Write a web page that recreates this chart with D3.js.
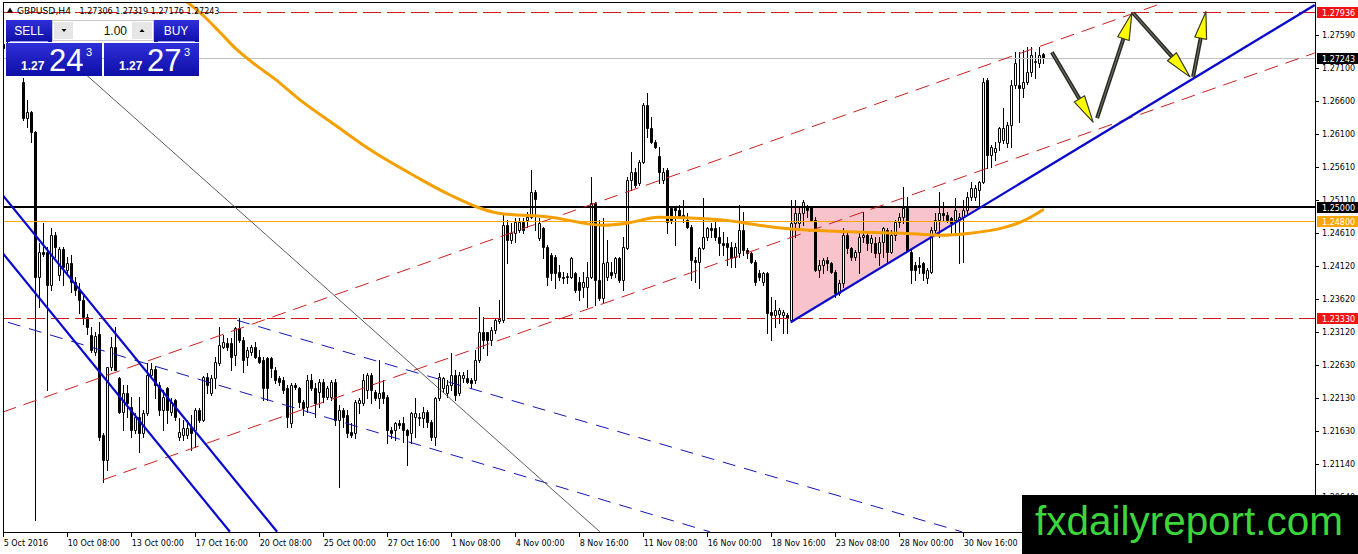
<!DOCTYPE html>
<html>
<head>
<meta charset="utf-8">
<script src="https://cdn.jsdelivr.net/npm/d3@7"></script>
<style>
  body { margin: 0; background: #fff; }
  svg { display: block; font-family: "DejaVu Sans", sans-serif; }
</style>
</head>
<body>
<svg id="chart" width="1358" height="554"></svg>
<script>
// ---- data ----
var symbol = "GBPUSD,H4";
var lastBar = ["1.27306", "1.27319", "1.27176", "1.27243"];
var sellQuote = ["1.27", "24", "3"];
var buyQuote = ["1.27", "27", "3"];
var lotSize = "1.00";
var brand = "fxdailyreport.com";

var timeLabels = ["5 Oct 2016", "10 Oct 08:00", "13 Oct 00:00", "17 Oct 16:00", "20 Oct 08:00",
  "25 Oct 00:00", "27 Oct 16:00", "1 Nov 08:00", "4 Nov 00:00", "8 Nov 16:00", "11 Nov 08:00",
  "16 Nov 00:00", "18 Nov 16:00", "23 Nov 08:00", "28 Nov 00:00", "30 Nov 16:00"];
var barsPerLabel = 16;
var priceTicks = [1.27590, 1.27100, 1.26600, 1.26100, 1.25610, 1.25110, 1.24610, 1.24120,
  1.23620, 1.23120, 1.22630, 1.22130, 1.21630, 1.21140, 1.20640];

// H4 candles [open, high, low, close]
var barsOct5 = [
  [1.2745,1.2778,1.2730,1.2740],[1.2740,1.2755,1.2715,1.2725],[1.2725,1.2740,1.2710,1.2730],
  [1.2730,1.2745,1.2712,1.2718],[1.2718,1.2728,1.2700,1.2705],[1.2688,1.2694,1.2631,1.2634],
  [1.2634,1.2661,1.2621,1.2643],[1.2643,1.2645,1.2598,1.2613],[1.2613,1.2615,1.2030,1.2395],
  [1.2395,1.2446,1.2350,1.2433],[1.2433,1.2476,1.2426,1.2430],[1.2433,1.2440,1.2225,1.2383],
  [1.2383,1.2469,1.2375,1.2458],[1.2458,1.2463,1.2425,1.2440],[1.2398,1.2440,1.2391,1.2437],
  [1.2437,1.2440,1.2383,1.2410],[1.2406,1.2425,1.2400,1.2416],[1.2416,1.2428,1.2372,1.2388],
  [1.2388,1.2395,1.2368,1.2375],[1.2375,1.2386,1.2341,1.2360],[1.2360,1.2366,1.2325,1.2335],
  [1.2335,1.2340,1.2310,1.2320],[1.2308,1.2320,1.2282,1.2285],[1.2282,1.2312,1.2278,1.2306],
  [1.2310,1.2328,1.2150,1.2154],[1.2157,1.2160,1.2087,1.2120],[1.2120,1.2260,1.2105,1.2260],
  [1.2260,1.2305,1.2255,1.2290],[1.2290,1.2320,1.2255,1.2255],[1.2243,1.2245,1.2190,1.2192],
  [1.2192,1.2233,1.2165,1.2221],[1.2221,1.2233,1.2185,1.2206],[1.2200,1.2215,1.2154,1.2165],
  [1.2165,1.2190,1.2160,1.2185],[1.2185,1.2215,1.2132,1.2160],[1.2160,1.2195,1.2155,1.2190],
  [1.2190,1.2266,1.2188,1.2248],[1.2248,1.2266,1.2243,1.2257],[1.2257,1.2262,1.2213,1.2233],
  [1.2233,1.2237,1.2188,1.2195]
];
var barsOct13 = [
  [1.2195,1.2225,1.2165,1.2215],[1.2228,1.2230,1.2176,1.2195],[1.2192,1.2213,1.2188,1.2207],
  [1.2210,1.2212,1.2180,1.2185],[1.2154,1.2183,1.2150,1.2162],[1.2157,1.2180,1.2150,1.2168],
  [1.2157,1.2180,1.2153,1.2168],[1.2169,1.2188,1.2135,1.2160],[1.2165,1.2198,1.2139,1.2195],
  [1.2195,1.2198,1.2177,1.2180],[1.2180,1.2246,1.2178,1.2245],[1.2245,1.2251,1.2221,1.2233],
  [1.2221,1.2248,1.2218,1.2243],[1.2243,1.2275,1.2228,1.2267],[1.2266,1.2320,1.2263,1.2293],
  [1.2290,1.2308,1.2289,1.2297],[1.2296,1.2303,1.2285,1.2290],[1.2296,1.2303,1.2255,1.2275],
  [1.2278,1.2320,1.2263,1.2318],[1.2318,1.2333,1.2297,1.2300],[1.2300,1.2305,1.2252,1.2270],
  [1.2275,1.2290,1.2263,1.2285],[1.2282,1.2293,1.2278,1.2290],[1.2290,1.2297,1.2273,1.2275],
  [1.2275,1.2285,1.2266,1.2267],[1.2270,1.2275,1.2210,1.2228],[1.2273,1.2275,1.2210,1.2228],
  [1.2273,1.2275,1.2245,1.2258],[1.2255,1.2260,1.2236,1.2240],[1.2243,1.2246,1.2233,1.2237],
  [1.2240,1.2245,1.2221,1.2225],[1.2228,1.2233,1.2169,1.2185],[1.2176,1.2236,1.2169,1.2233],
  [1.2233,1.2236,1.2227,1.2230],[1.2228,1.2230,1.2200,1.2207],[1.2207,1.2210,1.2188,1.2198],
  [1.2200,1.2248,1.2192,1.2240]
];
var barsOct21 = [
  [1.2240,1.2249,1.2225,1.2228],[1.2228,1.2236,1.2185,1.2206],[1.2222,1.2242,1.2200,1.2237],
  [1.2237,1.2242,1.2207,1.2215],[1.2215,1.2231,1.2212,1.2228],[1.2215,1.2240,1.2210,1.2237],
  [1.2237,1.2242,1.2172,1.2180],[1.2180,1.2203,1.2079,1.2195],[1.2195,1.2198,1.2169,1.2185],
  [1.2188,1.2195,1.2154,1.2160],[1.2162,1.2176,1.2154,1.2157],[1.2160,1.2210,1.2153,1.2207],
  [1.2206,1.2213,1.2190,1.2210],[1.2206,1.2249,1.2203,1.2240],[1.2225,1.2251,1.2213,1.2248],
  [1.2248,1.2251,1.2206,1.2225],[1.2222,1.2225,1.2210,1.2213],[1.2213,1.2270,1.2198,1.2221],
  [1.2222,1.2240,1.2206,1.2213],[1.2215,1.2218,1.2145,1.2165],[1.2165,1.2169,1.2153,1.2160],
  [1.2165,1.2177,1.2150,1.2176],[1.2176,1.2180,1.2168,1.2172],[1.2176,1.2185,1.2147,1.2165],
  [1.2165,1.2166,1.2112,1.2157],[1.2160,1.2192,1.2145,1.2190],[1.2185,1.2213,1.2154,1.2190],
  [1.2183,1.2190,1.2172,1.2185],[1.2183,1.2200,1.2169,1.2192],[1.2192,1.2195,1.2169,1.2177],
  [1.2177,1.2180,1.2150,1.2154],[1.2154,1.2215,1.2142,1.2213],[1.2213,1.2251,1.2210,1.2245],
  [1.2228,1.2245,1.2222,1.2243],[1.2221,1.2240,1.2215,1.2233]
];
var barsNov1 = [
  [1.2233,1.2281,1.2225,1.2248],[1.2248,1.2255,1.2210,1.2218],[1.2221,1.2252,1.2218,1.2248],
  [1.2243,1.2252,1.2237,1.2248],[1.2243,1.2255,1.2236,1.2237],[1.2240,1.2243,1.2228,1.2236],
  [1.2240,1.2285,1.2236,1.2270],[1.2270,1.2350,1.2267,1.2312],[1.2312,1.2335,1.2288,1.2300],
  [1.2312,1.2313,1.2278,1.2300],[1.2300,1.2320,1.2293,1.2315],[1.2315,1.2333,1.2311,1.2330],
  [1.2329,1.2360,1.2326,1.2332],[1.2330,1.2488,1.2327,1.2473],[1.2473,1.2481,1.2416,1.2451],
  [1.2451,1.2476,1.2446,1.2461],[1.2461,1.2484,1.2448,1.2478],[1.2466,1.2484,1.2463,1.2478],
  [1.2478,1.2484,1.2461,1.2466],[1.2481,1.2493,1.2470,1.2485],[1.2485,1.2556,1.2484,1.2523],
  [1.2523,1.2526,1.2466,1.2512],[1.2454,1.2484,1.2451,1.2476],[1.2469,1.2470,1.2424,1.2440],
  [1.2440,1.2443,1.2383,1.2395],[1.2428,1.2431,1.2390,1.2401],[1.2425,1.2428,1.2378,1.2401],
  [1.2403,1.2413,1.2390,1.2395],[1.2395,1.2403,1.2386,1.2394],[1.2395,1.2401,1.2386,1.2396],
  [1.2395,1.2425,1.2393,1.2424],[1.2401,1.2403,1.2372,1.2375],[1.2387,1.2395,1.2360,1.2375],
  [1.2380,1.2403,1.2365,1.2387],[1.2380,1.2418,1.2350,1.2395],[1.2395,1.2545,1.2394,1.2506],
  [1.2506,1.2508,1.2353,1.2390],[1.2390,1.2481,1.2360,1.2363],[1.2363,1.2484,1.2356,1.2416],
  [1.2395,1.2451,1.2390,1.2418],[1.2403,1.2418,1.2393,1.2398],[1.2401,1.2425,1.2395,1.2424],
  [1.2424,1.2425,1.2387,1.2390]
];
var barsNov9 = [
  [1.2390,1.2455,1.2375,1.2440],[1.2439,1.2545,1.2437,1.2541],[1.2541,1.2583,1.2526,1.2553],
  [1.2553,1.2559,1.2530,1.2533],[1.2536,1.2571,1.2533,1.2568],[1.2568,1.2656,1.2566,1.2654],
  [1.2654,1.2672,1.2606,1.2619],[1.2619,1.2636,1.2596,1.2598],[1.2598,1.2601,1.2589,1.2591],
  [1.2577,1.2591,1.2536,1.2553],[1.2541,1.2559,1.2536,1.2553],[1.2556,1.2559,1.2461,1.2478],
  [1.2499,1.2500,1.2476,1.2481],[1.2499,1.2500,1.2443,1.2496],[1.2496,1.2503,1.2484,1.2485],
  [1.2488,1.2511,1.2478,1.2485],[1.2481,1.2491,1.2469,1.2470],[1.2470,1.2473,1.2390,1.2421],
  [1.2421,1.2425,1.2387,1.2418],[1.2418,1.2440,1.2378,1.2439],[1.2439,1.2514,1.2437,1.2455],
  [1.2455,1.2470,1.2451,1.2469],[1.2469,1.2476,1.2455,1.2466],[1.2469,1.2484,1.2451,1.2455],
  [1.2455,1.2470,1.2428,1.2446],[1.2446,1.2463,1.2428,1.2443],[1.2446,1.2455,1.2413,1.2440],
  [1.2440,1.2448,1.2410,1.2424],[1.2425,1.2446,1.2410,1.2440],[1.2431,1.2503,1.2425,1.2466],
  [1.2466,1.2493,1.2428,1.2436],[1.2436,1.2439,1.2424,1.2431],[1.2431,1.2433,1.2416,1.2418],
  [1.2418,1.2421,1.2383,1.2388],[1.2401,1.2406,1.2390,1.2395],[1.2388,1.2403,1.2383,1.2401],
  [1.2401,1.2403,1.2311,1.2341],[1.2342,1.2365,1.2300,1.2338],[1.2338,1.2360,1.2320,1.2345],
  [1.2340,1.2348,1.2326,1.2345],[1.2338,1.2345,1.2311,1.2343],[1.2338,1.2341,1.2311,1.2333]
];
var barsNov21 = [
  [1.2330,1.2511,1.2327,1.2476],[1.2476,1.2511,1.2455,1.2491],[1.2476,1.2499,1.2469,1.2491],
  [1.2491,1.2511,1.2473,1.2508],[1.2500,1.2503,1.2485,1.2496],[1.2500,1.2502,1.2480,1.2481],
  [1.2481,1.2485,1.2404,1.2406],[1.2406,1.2421,1.2395,1.2413],[1.2413,1.2424,1.2401,1.2421],
  [1.2421,1.2425,1.2406,1.2416],[1.2416,1.2418,1.2401,1.2403],[1.2403,1.2406,1.2365,1.2371],
  [1.2371,1.2390,1.2368,1.2386],[1.2386,1.2469,1.2380,1.2458],[1.2458,1.2463,1.2431,1.2439],
  [1.2439,1.2440,1.2421,1.2425],[1.2425,1.2436,1.2421,1.2433],[1.2433,1.2461,1.2401,1.2455],
  [1.2455,1.2493,1.2448,1.2458],[1.2458,1.2463,1.2436,1.2446],[1.2446,1.2458,1.2433,1.2454],
  [1.2446,1.2455,1.2425,1.2431],[1.2431,1.2455,1.2413,1.2448],[1.2448,1.2470,1.2425,1.2469],
  [1.2466,1.2469,1.2416,1.2433],[1.2433,1.2466,1.2431,1.2458],[1.2458,1.2481,1.2451,1.2478],
  [1.2478,1.2491,1.2470,1.2485],[1.2485,1.2530,1.2476,1.2499],[1.2499,1.2515,1.2435,1.2436],
  [1.2433,1.2436,1.2386,1.2406],[1.2413,1.2418,1.2390,1.2406],[1.2413,1.2425,1.2401,1.2410],
  [1.2416,1.2418,1.2390,1.2401],[1.2393,1.2408,1.2386,1.2406],[1.2403,1.2470,1.2401,1.2466],
  [1.2466,1.2491,1.2463,1.2481],[1.2481,1.2523,1.2455,1.2491],[1.2491,1.2508,1.2481,1.2488],
  [1.2488,1.2493,1.2478,1.2481],[1.2484,1.2485,1.2461,1.2476],[1.2481,1.2514,1.2461,1.2496],
  [1.2481,1.2491,1.2416,1.2485],[1.2485,1.2511,1.2418,1.2496],[1.2496,1.2523,1.2491,1.2515],
  [1.2515,1.2538,1.2511,1.2529],[1.2515,1.2533,1.2511,1.2529],[1.2526,1.2539,1.2503,1.2538]
];
var barsDec1 = [
  [1.2538,1.2694,1.2536,1.2688],[1.2691,1.2694,1.2559,1.2578],[1.2578,1.2593,1.2560,1.2591],
  [1.2583,1.2598,1.2571,1.2589],[1.2598,1.2621,1.2586,1.2619],[1.2601,1.2649,1.2596,1.2619],
  [1.2596,1.2628,1.2591,1.2624],[1.2624,1.2691,1.2591,1.2684],[1.2684,1.2733,1.2679,1.2717],
  [1.2684,1.2733,1.2628,1.2679],[1.2679,1.2736,1.2666,1.2688],[1.2688,1.2741,1.2686,1.2703],
  [1.2703,1.2741,1.2697,1.2729],[1.2718,1.2733,1.2694,1.2720],[1.2717,1.2741,1.2711,1.2729],
  [1.27306,1.27319,1.27176,1.27243]
];

// moving average [bar, price]
var maLine = [[44,1.2818],[46,1.2809],[50,1.2789],[54,1.2765],[58,1.2740],[63,1.2715],[68,1.2693],
  [74,1.2663],[83,1.2624],[92,1.2586],[103,1.2547],[112,1.2518],[124,1.2491],[137,1.2485],
  [150,1.2473],[156,1.2476],[164,1.2485],[172,1.2484],[180,1.2481],[189,1.2473],[194,1.2469],
  [200,1.2466],[212,1.2463],[225,1.2461],[234,1.2458],[242,1.2461],[250,1.2469],[255,1.2479],
  [260,1.2496]];

// horizontal levels
var redLevels = [1.27936, 1.23330];
var blackLevel = 1.25000;
var orangeLevel = 1.24800;
var bidLevel = 1.27243;

// drawn objects, endpoints as [bar, price]
var redChannel = [[[0, 1.2192], [290, 1.2807]], [[25, 1.2090], [328, 1.2732]]];
var blueFalling = [[[0, 1.2518], [68.6, 1.2012]], [[0, 1.2431], [56.8, 1.2012]]];
var blueDashed = [[[1.3, 1.2327], [176.8, 1.2012]], [[58.6, 1.2330], [239.8, 1.2012]]];
var blueRising = [[197, 1.2327], [328, 1.2804]];
var grayDiagonal = [[16.8, 1.2721], [149.3, 1.2012]];
var triangleZone = [[197, 1.2500], [244, 1.2500], [197, 1.2327]];
var projection = [
  [[262.3, 1.2733], [272.6, 1.2628]],
  [[273.6, 1.2634], [282.3, 1.2792]],
  [[282.6, 1.2792], [296.8, 1.2696]],
  [[297.6, 1.2696], [300.8, 1.2794]]
];

var candles = [].concat(barsOct5, barsOct13, barsOct21, barsNov1, barsNov9, barsNov21, barsDec1);

// ---- layout ----
var W = 1358, H = 554;
var frame = {left: 3, top: 2, right: 1315, bottom: 532};
var svg = d3.select("#chart");

var x = d3.scaleLinear().domain([0, 328]).range([2.7, 1314.7]);
var y = d3.scaleLinear().domain([1.20, 1.28]).range([539.8, 7.7]);
var line = d3.line().x(d => x(d[0])).y(d => y(d[1]));
var crisp = v => Math.round(v) + 0.5;

svg.append("rect").attr("width", W).attr("height", H).attr("fill", "#fff");

var defs = svg.append("defs");
defs.append("clipPath").attr("id", "plotClip").append("rect")
    .attr("x", frame.left).attr("y", frame.top)
    .attr("width", frame.right - frame.left).attr("height", frame.bottom - frame.top);
var grad = defs.append("linearGradient").attr("id", "blueBtn")
    .attr("x1", 0).attr("y1", 0).attr("x2", 0).attr("y2", 1);
grad.append("stop").attr("offset", "0%").attr("stop-color", "#2f2fd9");
grad.append("stop").attr("offset", "100%").attr("stop-color", "#0e0ea6");

var plot = svg.append("g").attr("clip-path", "url(#plotClip)");

// pink triangle behind the bars
plot.append("path")
    .attr("d", line(triangleZone) + "Z")
    .attr("fill", "#f9c3cc");

// candles
var bars = plot.append("g").attr("class", "candles");
bars.selectAll("line").data(candles).join("line")
    .attr("x1", (d, i) => crisp(x(i))).attr("x2", (d, i) => crisp(x(i)))
    .attr("y1", d => Math.round(y(d[1]))).attr("y2", d => Math.round(y(d[2])) + 1)
    .attr("stroke", "#000").attr("stroke-width", 1).attr("shape-rendering", "crispEdges");
bars.selectAll("path").data(candles).join("path")
    .attr("d", function(d, i) {
      var cx = Math.round(x(i));
      var t = Math.round(y(Math.max(d[0], d[3])));
      var b = Math.round(y(Math.min(d[0], d[3])));
      return "M" + (cx - 0.5) + "," + (t + 0.5) + "h2V" + (b + 0.5) + "h-2Z";
    })
    .attr("fill", d => d[3] >= d[0] ? "#fff" : "#000")
    .attr("stroke", "#000").attr("stroke-width", 1);

// horizontal levels
var hLine = function(v, color, width, dash) {
  var yy = width % 2 ? crisp(y(v)) : Math.round(y(v));
  plot.append("line")
      .attr("x1", frame.left).attr("x2", frame.right).attr("y1", yy).attr("y2", yy)
      .attr("stroke", color).attr("stroke-width", width)
      .attr("stroke-dasharray", dash || null).attr("shape-rendering", "crispEdges");
};
hLine(bidLevel, "#c0c0c0", 1);
hLine(orangeLevel, "#ffa500", 1);
hLine(blackLevel, "#000", 2);
redLevels.forEach(v => hLine(v, "#d01818", 1, "18,6"));

// trend lines
plot.selectAll("path.red").data(redChannel).join("path").attr("class", "red")
    .attr("d", line).attr("fill", "none").attr("stroke", "#cc1f1f")
    .attr("stroke-width", 1).attr("stroke-dasharray", "14,8");
plot.selectAll("path.bdash").data(blueDashed).join("path").attr("class", "bdash")
    .attr("d", line).attr("fill", "none").attr("stroke", "#1414b4")
    .attr("stroke-width", 1).attr("stroke-dasharray", "13,9");
plot.append("path").attr("d", line(grayDiagonal)).attr("fill", "none")
    .attr("stroke", "#4a4a4a").attr("stroke-width", 0.9);
plot.selectAll("path.bfall").data(blueFalling).join("path").attr("class", "bfall")
    .attr("d", line).attr("fill", "none").attr("stroke", "#0a0acc").attr("stroke-width", 2.2);
plot.append("path").attr("d", line(blueRising)).attr("fill", "none")
    .attr("stroke", "#0a0acc").attr("stroke-width", 2.2);

// moving average
plot.append("path")
    .attr("d", d3.line().x(d => x(d[0])).y(d => y(d[1])).curve(d3.curveMonotoneX)(maLine))
    .attr("fill", "none").attr("stroke", "#f5a000").attr("stroke-width", 3)
    .attr("stroke-linecap", "round");

// projection arrows
var arrows = plot.append("g").attr("class", "arrows");
projection.forEach(function(seg) {
  var x0 = x(seg[0][0]), y0 = y(seg[0][1]), x1 = x(seg[1][0]), y1 = y(seg[1][1]);
  var len = Math.hypot(x1 - x0, y1 - y0);
  var ux = (x1 - x0) / len, uy = (y1 - y0) / len;
  var hl = 27, hw = 6;
  var bx = x1 - ux * hl, by = y1 - uy * hl;
  arrows.append("line")
      .attr("x1", x0).attr("y1", y0).attr("x2", bx + ux * 4).attr("y2", by + uy * 4)
      .attr("stroke", "#262626").attr("stroke-width", 4);
  arrows.append("line")
      .attr("x1", x0).attr("y1", y0).attr("x2", bx + ux * 4).attr("y2", by + uy * 4)
      .attr("stroke", "#6d6d55").attr("stroke-width", 1.2);
  arrows.append("path")
      .attr("d", "M" + x1 + "," + y1 + "L" + (bx - uy * hw) + "," + (by + ux * hw) +
                 "L" + (bx + uy * hw) + "," + (by - ux * hw) + "Z")
      .attr("fill", "#ffff00").attr("stroke", "#3a3a20").attr("stroke-width", 1.2)
      .attr("stroke-linejoin", "round");
});

// frame
svg.append("path")
    .attr("d", "M" + (frame.left + 0.5) + "," + frame.bottom + "V" + (frame.top + 0.5) +
               "H" + (frame.right + 0.5) + "V" + (frame.bottom + 0.5) + "H" + frame.left)
    .attr("fill", "none").attr("stroke", "#000").attr("stroke-width", 1)
    .attr("shape-rendering", "crispEdges");

// right price axis
var yAxis = svg.append("g").attr("class", "axis right");
yAxis.selectAll("line").data(priceTicks).join("line")
    .attr("x1", frame.right).attr("x2", frame.right + 4)
    .attr("y1", d => crisp(y(d))).attr("y2", d => crisp(y(d)))
    .attr("stroke", "#000").attr("shape-rendering", "crispEdges");
yAxis.selectAll("text").data(priceTicks).join("text")
    .attr("x", frame.right + 7).attr("y", d => y(d) + 3)
    .attr("font-size", 8).attr("fill", "#000")
    .text(d => d.toFixed(5));

// bottom time axis
var xAxis = svg.append("g").attr("class", "axis bottom");
xAxis.selectAll("line").data(timeLabels).join("line")
    .attr("x1", (d, k) => crisp(x(k * barsPerLabel))).attr("x2", (d, k) => crisp(x(k * barsPerLabel)))
    .attr("y1", frame.bottom).attr("y2", frame.bottom + 5)
    .attr("stroke", "#000").attr("shape-rendering", "crispEdges");
xAxis.selectAll("text").data(timeLabels).join("text")
    .attr("x", (d, k) => x(k * barsPerLabel) + 1).attr("y", 546)
    .attr("font-size", 8).attr("fill", "#000")
    .text(d => d);

// price labels on the axis
var tags = [
  {v: redLevels[0], fill: "#f01414"},
  {v: bidLevel, fill: "#000"},
  {v: blackLevel, fill: "#000"},
  {v: orangeLevel, fill: "#ffa500"},
  {v: redLevels[1], fill: "#f01414"}
];
var tagG = svg.append("g").attr("class", "tags");
tagG.selectAll("rect").data(tags).join("rect")
    .attr("x", frame.right + 2).attr("y", d => Math.round(y(d.v)) - 5)
    .attr("width", W - frame.right - 2).attr("height", 11)
    .attr("fill", d => d.fill);
tagG.selectAll("text").data(tags).join("text")
    .attr("x", frame.right + 7).attr("y", d => Math.round(y(d.v)) + 4)
    .attr("font-size", 8).attr("fill", "#fff")
    .text(d => d.v.toFixed(5));

// header line
var head = svg.append("g").attr("class", "header");
head.append("path").attr("d", "M7,12.5L10,7.5L13,12.5Z").attr("fill", "#000");
head.append("text").attr("x", 17).attr("y", 13.5).attr("font-size", 8.5)
    .attr("textLength", 54).attr("lengthAdjust", "spacingAndGlyphs").text(symbol);
head.append("text").attr("x", 79.5).attr("y", 13.5).attr("font-size", 8)
    .text(lastBar.join(" "));

// one-click trading panel
var sans = "'Liberation Sans', Arial, sans-serif";
var narrow = "'Liberation Sans Narrow', 'Liberation Sans', sans-serif";
var panel = svg.append("g").attr("class", "panel").attr("font-family", sans);
panel.append("rect").attr("x", 6).attr("y", 20).attr("width", 46).attr("height", 22).attr("fill", "url(#blueBtn)");
panel.append("rect").attr("x", 154).attr("y", 20).attr("width", 45).attr("height", 22).attr("fill", "url(#blueBtn)");
panel.append("line").attr("x1", 10).attr("x2", 48).attr("y1", 41.5).attr("y2", 41.5).attr("stroke", "#9aa0ff");
panel.append("line").attr("x1", 158).attr("x2", 195).attr("y1", 41.5).attr("y2", 41.5).attr("stroke", "#9aa0ff");
panel.append("text").attr("x", 29).attr("y", 35).attr("text-anchor", "middle")
    .attr("font-size", 12).attr("fill", "#fff").attr("font-family", narrow).text("SELL");
panel.append("text").attr("x", 176).attr("y", 35).attr("text-anchor", "middle")
    .attr("font-size", 12).attr("fill", "#fff").attr("font-family", narrow).text("BUY");
// lot size control
panel.append("rect").attr("x", 52.5).attr("y", 20.5).attr("width", 101).attr("height", 20)
    .attr("fill", "#fff").attr("stroke", "#c8c8c8");
panel.append("rect").attr("x", 54).attr("y", 22).attr("width", 19).attr("height", 17).attr("fill", "#e6e6e6");
panel.append("rect").attr("x", 132).attr("y", 22).attr("width", 20).attr("height", 17).attr("fill", "#e6e6e6");
panel.append("path").attr("d", "M61.5,29L66.5,29L64,32Z").attr("fill", "#000");
panel.append("path").attr("d", "M139.5,32L144.5,32L142,29Z").attr("fill", "#000");
panel.append("text").attr("x", 127).attr("y", 34.5).attr("text-anchor", "end")
    .attr("font-size", 12).attr("fill", "#111").text(lotSize);
// quote boxes
[[6, 96, sellQuote], [104, 95, buyQuote]].forEach(function(b) {
  var bx = b[0], q = b[2];
  panel.append("rect").attr("x", bx).attr("y", 43).attr("width", b[1]).attr("height", 33).attr("fill", "url(#blueBtn)");
  panel.append("text").attr("x", bx + 15).attr("y", 70).attr("font-size", 12)
      .attr("font-weight", "bold").attr("fill", "#fff").text(q[0]);
  panel.append("text").attr("x", bx + 43).attr("y", 70.5).attr("font-size", 31)
      .attr("fill", "#fff").text(q[1]);
  panel.append("text").attr("x", bx + 80).attr("y", 56).attr("font-size", 11)
      .attr("fill", "#fff").text(q[2]);
});

// watermark box
svg.append("rect").attr("x", 1022).attr("y", 495).attr("width", W - 1022).attr("height", H - 495).attr("fill", "#000");
svg.append("text").attr("x", 1035).attr("y", 535)
    .attr("font-family", sans).attr("font-size", 40)
    .attr("textLength", 308).attr("lengthAdjust", "spacingAndGlyphs")
    .attr("fill", "#3cd63c").text(brand);
</script>
</body>
</html>
